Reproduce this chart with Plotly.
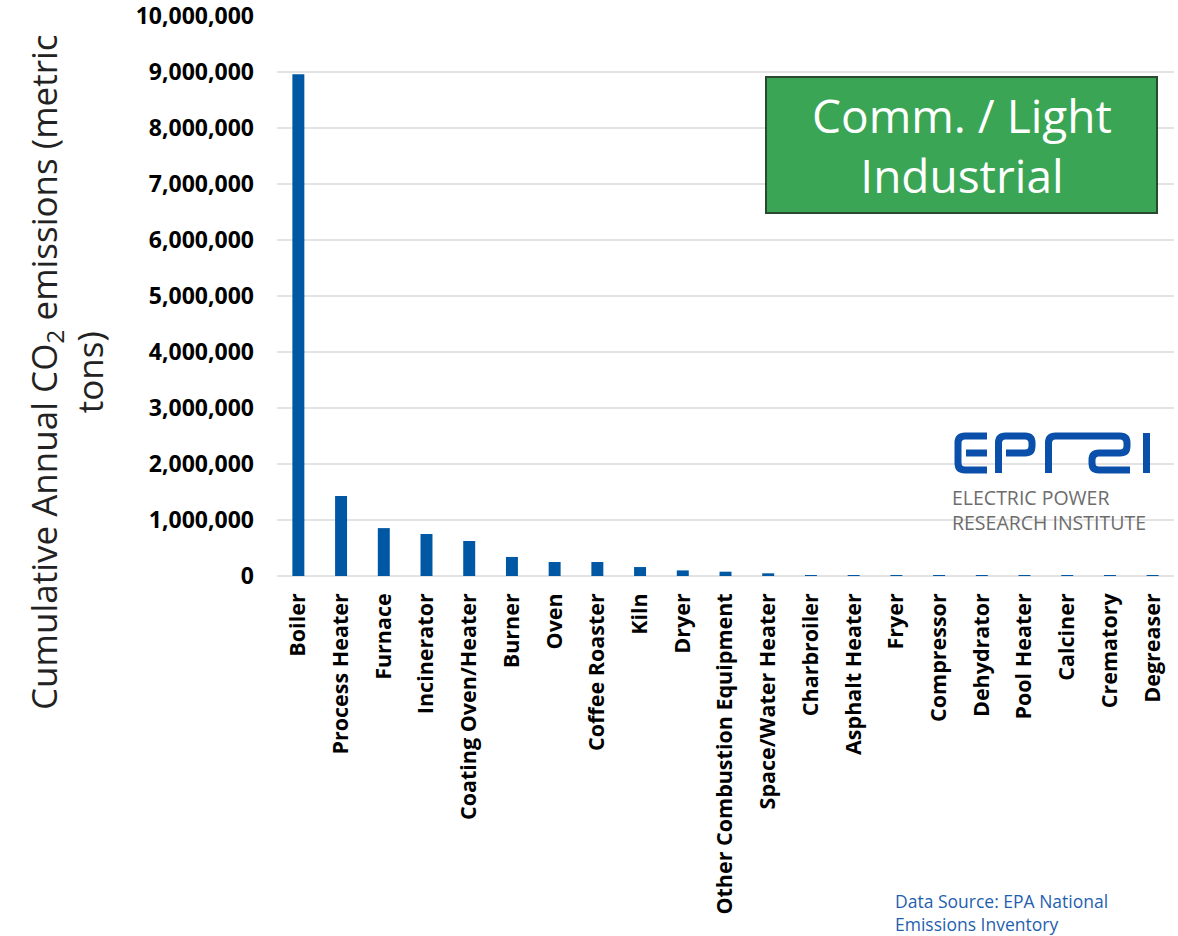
import plotly.graph_objects as go

# Equipment categories and their cumulative annual CO2 emissions (metric tons)
categories = [
    "Boiler", "Process Heater", "Furnace", "Incinerator", "Coating Oven/Heater",
    "Burner", "Oven", "Coffee Roaster", "Kiln", "Dryer",
    "Other Combustion Equipment", "Space/Water Heater", "Charbroiler",
    "Asphalt Heater", "Fryer", "Compressor", "Dehydrator", "Pool Heater",
    "Calciner", "Crematory", "Degreaser",
]
emissions = [
    8960000, 1430000, 855000, 750000, 625000,
    340000, 250000, 250000, 160000, 100000,
    77000, 48000, 4000,
    2500, 2000, 1500, 1000, 800,
    600, 400, 200,
]
y_ticks = list(range(0, 10000001, 1000000))

BAR_BLUE = "#0057a3"
LOGO_BLUE = "#0a50ab"
FONT = "Open Sans, Segoe UI, DejaVu Sans, sans-serif"

W, H = 1178, 936
ML, MR, MT, MB = 277, 4, 16, 360
PW, PH = W - ML - MR, H - MT - MB


def px_x(x):
    """Horizontal pixel position -> paper fraction."""
    return (x - ML) / PW


def px_y(y):
    """Vertical pixel position (from top) -> paper fraction."""
    return (H - MB - y) / PH


fig = go.Figure(
    go.Bar(
        x=categories,
        y=emissions,
        marker=dict(color=BAR_BLUE, line=dict(width=0)),
        hovertemplate="%{x}: %{y:,}<extra></extra>",
    )
)

fig.update_layout(
    width=W,
    height=H,
    margin=dict(l=ML, r=MR, t=MT, b=MB, autoexpand=False),
    paper_bgcolor="white",
    plot_bgcolor="white",
    bargap=0.72,
    showlegend=False,
    font=dict(family=FONT, color="#000000"),
)

fig.update_xaxes(
    tickangle=-90,
    tickfont=dict(size=21.5, family=FONT, color="#000000", weight="bold"),
    showgrid=False,
    showline=False,
    ticks="",
    ticklabelstandoff=12,
    automargin=False,
)

fig.update_yaxes(
    range=[0, 10000000],
    tickvals=y_ticks,
    tickformat=",d",
    tickfont=dict(size=23, family=FONT, color="#000000", weight="bold"),
    ticklabeloverflow="allow",
    showgrid=True,
    gridcolor="#e3e3e3",
    gridwidth=1.5,
    zeroline=True,
    zerolinecolor="#e3e3e3",
    zerolinewidth=1.5,
    showline=False,
    ticks="",
    ticklabelstandoff=22,
    automargin=False,
)

# Axis title, centred on the full chart height
fig.add_annotation(
    xref="paper", yref="paper",
    x=px_x(66), y=px_y(372),
    text="Cumulative Annual CO<sub>2</sub> emissions (metric<br>tons)",
    textangle=-90,
    showarrow=False,
    xanchor="center", yanchor="middle",
    font=dict(size=35, family=FONT, color="#222222"),
)

# Sector label box
fig.add_shape(
    type="rect", xref="paper", yref="paper",
    x0=px_x(766), x1=px_x(1157),
    y0=px_y(213), y1=px_y(77),
    fillcolor="#3aa655",
    line=dict(color="#2a4a2f", width=2),
    layer="above",
)
fig.add_annotation(
    xref="paper", yref="paper",
    x=px_x((766 + 1157) / 2), y=px_y(145),
    text="Comm. / Light<br>Industrial",
    showarrow=False,
    xanchor="center", yanchor="middle",
    font=dict(size=46, family=FONT, color="white"),
)

# Organisation mark: rounded stroke letters, drawn in pixels from an anchor
logo_paths = [
    # E
    "M 35,37 L 13,37 Q 6,37 6,30 L 6,10 Q 6,3 13,3 L 35,3",
    "M 14,20 L 35,20",
    # P
    "M 46.5,0 L 46.5,30 Q 46.5,37 53.5,37 L 73,37 Q 80,37 80,30 L 80,27 "
    "Q 80,20 73,20 L 54,20",
    # R
    "M 96.5,0 L 96.5,30 Q 96.5,37 103.5,37 L 168,37 Q 175,37 175,30 L 175,27 "
    "Q 175,20 168,20 L 147,20 Q 140,20 140,13 L 140,10 Q 140,3 147,3 L 178,3",
    # I
    "M 194.5,0 L 194.5,40",
]
for p in logo_paths:
    fig.add_shape(
        type="path",
        xref="paper", yref="paper",
        xsizemode="pixel", ysizemode="pixel",
        xanchor=px_x(952), yanchor=px_y(473),
        path=p,
        line=dict(color=LOGO_BLUE, width=7),
        layer="above",
    )

fig.add_annotation(
    xref="paper", yref="paper",
    x=px_x(950), y=px_y(510),
    text="ELECTRIC POWER<br>RESEARCH INSTITUTE",
    showarrow=False,
    xanchor="left", yanchor="middle", align="left",
    font=dict(size=19.5, family=FONT, color="#6d6d6d"),
)

# Data source note
fig.add_annotation(
    xref="paper", yref="paper",
    x=px_x(893), y=px_y(913),
    text="Data Source: EPA National<br>Emissions Inventory",
    showarrow=False,
    xanchor="left", yanchor="middle", align="left",
    font=dict(size=17.5, family=FONT, color="#1f5fae"),
)

fig.write_html("out.html")
